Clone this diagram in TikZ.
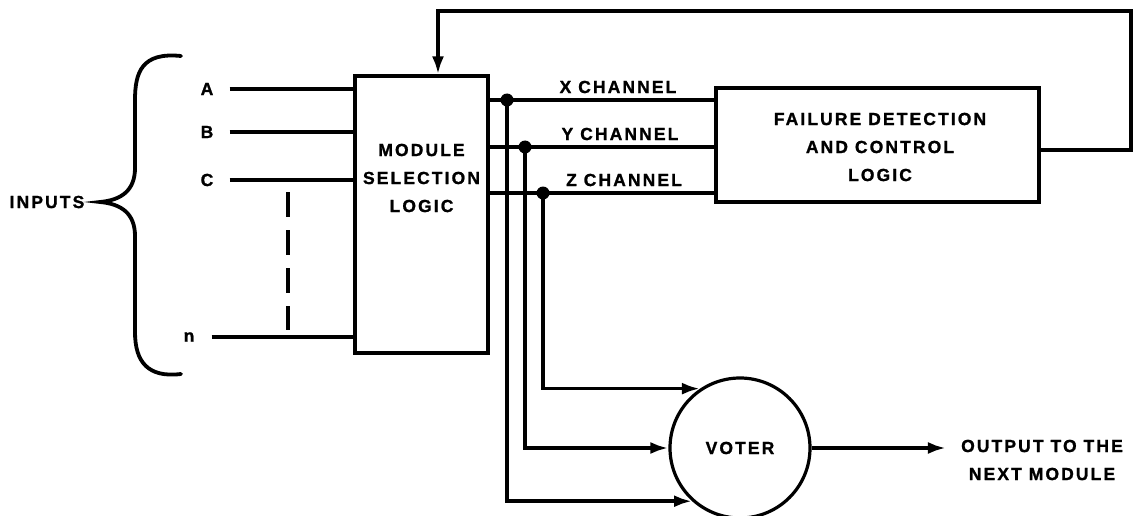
\documentclass[tikz,border=0pt]{standalone}
\usepackage{fontspec}
\setmainfont{Liberation Sans}[LetterSpace=12, BoldFeatures={FakeBold=1.2}]
\usetikzlibrary{arrows.meta}
\begin{document}
\begin{tikzpicture}[x=1pt,y=-1pt,
  lbl/.style={font=\fontsize{17.5}{28}\selectfont\bfseries, inner sep=0pt, align=center},
  box/.style={draw, line width=3.2pt, inner sep=0pt},
  wire/.style={line width=3.6pt},
  arr/.style={wire, -{Latex[length=18pt,width=12pt]}},
  dot/.style={circle, fill, inner sep=0pt, minimum size=13pt}]
\useasboundingbox (0,0) rectangle (1135,516);

% blocks
\node[box, minimum width=133pt, minimum height=277pt] (msl) at (421.5,214.5) {};
\node[lbl] (msltext) at (421.5,178) {MODULE\\SELECTION\\LOGIC};
\node[box, minimum width=323pt, minimum height=114pt] (fdc) at (877.5,145) {};
\node[lbl] (fdctext) at (880,147) {FAILURE DETECTION\\AND CONTROL\\LOGIC};
\node[box, circle, minimum size=140pt] (v) at (740,448) {};
\node[lbl] (vtext) at (740,448) {VOTER};
\node[lbl] (out) at (1042,460) {OUTPUT TO THE\\NEXT MODULE};

% inputs
\node[lbl] (inA) at (207,89) {A};
\node[lbl] (inB) at (207,132) {B};
\node[lbl] (inC) at (207,180) {C};
\node[lbl] (inN) at (189,337) {n};
\node[lbl] (inputs) at (47,202) {INPUTS};
\draw[wire] ([xshift=16pt]inA.east) -- (inA -| msl.west);
\draw[wire] ([xshift=16pt]inB.east) -- (inB -| msl.west);
\draw[wire] ([xshift=16pt]inC.east) -- (inC -| msl.west);
\draw[wire] ([xshift=17pt]inN.east) -- (inN -| msl.west);
\coordinate (dtop) at (288,192);
\coordinate (dbot) at (288,330);
\draw[wire, dash pattern=on 25pt off 13pt] (dtop) -- (dbot);

% brace
\draw[line width=3.8pt, line cap=round] (181,56) .. controls (142,52) and (135,72) .. (135,100)
  -- (135,168) .. controls (135,190) and (122,200) .. (100,202)
  .. controls (122,204) and (135,214) .. (135,236)
  -- (135,332) .. controls (135,362) and (148,378) .. (181,374);

% channels
\node[dot] (dx) at (507,100) {};
\node[dot] (dy) at (525,147) {};
\node[dot] (dz) at (543,193) {};
\draw[wire] (dx -| msl.east) -- (dx -| fdc.west);
\draw[wire] (dy -| msl.east) -- (dy -| fdc.west);
\draw[wire] (dz -| msl.east) -- (dz -| fdc.west);
\node[lbl] (lx) at (618,87) {X CHANNEL};
\node[lbl] (ly) at (620,134) {Y CHANNEL};
\node[lbl] (lz) at (624,180) {Z CHANNEL};

% to voter
\draw[arr] (dz.center) |- (v.124);
\draw[arr] (dy.center) |- (v.west);
\draw[arr] (dx.center) |- (v.228);
\draw[arr] (v.east) -- ([xshift=-15pt]out.west |- v.east);

% feedback
\coordinate (fbR) at (1131,11);
\coordinate (fbL) at (438,11);
\draw[arr] ([yshift=-5pt]fdc.east) -| (fbR) -- (fbL) -- (fbL |- msl.north);
\end{tikzpicture}
\end{document}
